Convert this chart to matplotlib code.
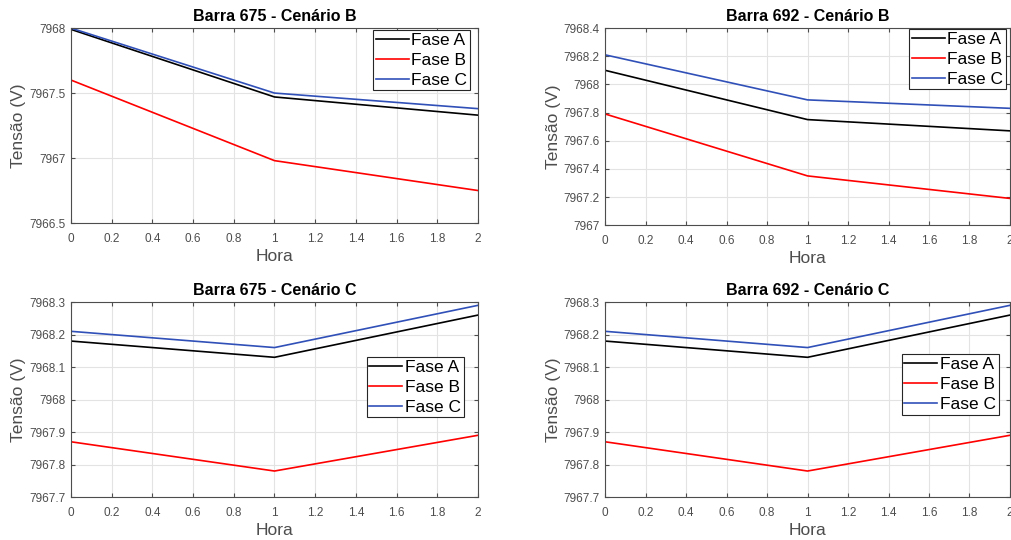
''' Tensao por fase nas barras 675 e 692 '''

import matplotlib
matplotlib.use("Agg")
import matplotlib.pyplot as plt

plt.rcParams['font.family'] = ['Liberation Sans', 'DejaVu Sans']

hora = [0, 1, 2]
fases = ["Fase A", "Fase B", "Fase C"]

# Barra 675 - Cenario B
b675_B_faseA = [7967.99, 7967.47, 7967.33]
b675_B_faseB = [7967.60, 7966.98, 7966.75]
b675_B_faseC = [7968.00, 7967.50, 7967.38]

# Barra 692 - Cenario B
b692_B_faseA = [7968.10, 7967.75, 7967.67]
b692_B_faseB = [7967.79, 7967.35, 7967.19]
b692_B_faseC = [7968.21, 7967.89, 7967.83]

# Barra 675 - Cenario C
b675_C_faseA = [7968.18, 7968.13, 7968.26]
b675_C_faseB = [7967.87, 7967.78, 7967.89]
b675_C_faseC = [7968.21, 7968.16, 7968.29]

# Barra 692 - Cenario C
b692_C_faseA = [7968.18, 7968.13, 7968.26]
b692_C_faseB = [7967.87, 7967.78, 7967.89]
b692_C_faseC = [7968.21, 7968.16, 7968.29]

cores = ["#000000", "#ff0000", "#3050b8"]
cinza = "#4d4d4d"

fig = plt.figure(figsize=(10.11, 5.40), dpi=100)

paineis = [
    ("Barra 675 - Cenário B", [b675_B_faseA, b675_B_faseB, b675_B_faseC],
     [0.0702, 0.587, 0.4026, 0.361], (7966.5, 7968), [7966.5, 7967, 7967.5, 7968],
     ["7966.5", "7967", "7967.5", "7968"], ("upper right", (0.98, 0.99))),
    ("Barra 692 - Cenário B", [b692_B_faseA, b692_B_faseB, b692_B_faseC],
     [0.5985, 0.583, 0.4005, 0.365], (7967, 7968.4), [7967 + 0.2 * i for i in range(8)],
     ["7967", "7967.2", "7967.4", "7967.6", "7967.8", "7968", "7968.2", "7968.4"],
     ("upper right", (0.99, 0.995))),
    ("Barra 675 - Cenário C", [b675_C_faseA, b675_C_faseB, b675_C_faseC],
     [0.0702, 0.0796, 0.4026, 0.361], (7967.7, 7968.3), [7967.7 + 0.1 * i for i in range(7)],
     ["7967.7", "7967.8", "7967.9", "7968", "7968.1", "7968.2", "7968.3"],
     ("upper left", (0.727, 0.718))),
    ("Barra 692 - Cenário C", [b692_C_faseA, b692_C_faseB, b692_C_faseC],
     [0.5985, 0.0796, 0.4005, 0.361], (7967.7, 7968.3), [7967.7 + 0.1 * i for i in range(7)],
     ["7967.7", "7967.8", "7967.9", "7968", "7968.1", "7968.2", "7968.3"],
     ("upper left", (0.733, 0.733))),
]

for titulo, series, pos, ylim, yticks, ylabels, (leg_loc, leg_anchor) in paineis:
    ax = fig.add_axes(pos)
    for serie, cor, nome in zip(series, cores, fases):
        ax.plot(hora, serie, color=cor, linewidth=1.2, label=nome)
    ax.set_xlim(0, 2)
    ax.set_ylim(*ylim)
    ax.set_xticks([0.2 * i for i in range(11)])
    ax.set_xticklabels(["0", "0.2", "0.4", "0.6", "0.8", "1", "1.2", "1.4", "1.6", "1.8", "2"])
    ax.set_yticks(yticks)
    ax.set_yticklabels(ylabels)
    ax.grid(True, color="#e3e3e3", linewidth=0.8)
    ax.set_axisbelow(True)
    ax.tick_params(labelsize=8.5, colors=cinza, direction="in", length=3,
                   top=True, right=True)
    ax.tick_params(axis="x", pad=7)
    ax.tick_params(axis="y", pad=4)
    for lado in ax.spines.values():
        lado.set_color(cinza)
        lado.set_linewidth(0.8)
    ax.set_title(titulo, fontsize=11.5, fontweight="bold", pad=5)
    ax.set_xlabel("Hora", fontsize=12.5, color=cinza, labelpad=3)
    ax.set_ylabel("Tensão (V)", fontsize=12.5, color=cinza, labelpad=2)
    leg = ax.legend(fontsize=12.5, handlelength=1.9, handletextpad=0.15,
                    labelspacing=0.28, borderpad=0.15, borderaxespad=0,
                    loc=leg_loc, bbox_to_anchor=leg_anchor,
                    fancybox=False, framealpha=1)
    leg.get_frame().set_edgecolor("#262626")
    leg.get_frame().set_linewidth(0.8)

fig.savefig("out.png", dpi=100)
